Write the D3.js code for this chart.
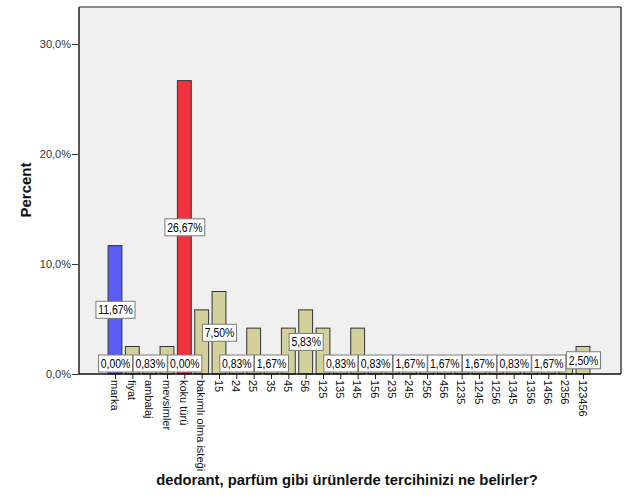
<!DOCTYPE html>
<html>
<head>
<meta charset="utf-8">
<script src="https://cdn.jsdelivr.net/npm/d3@7"></script>
<style>
  html, body { margin: 0; padding: 0; background: #fff; }
  svg { display: block; font-family: Arial, "Liberation Sans", sans-serif; }
</style>
</head>
<body>
<svg id="chart" width="629" height="504"></svg>
<script>
// ---- data ----
const categories = ["marka", "fiyat", "ambalaj", "mevsimler", "koku türü", "bakımlı olma isteği",
  "15", "24", "25", "35", "45", "56", "125", "135", "145", "156", "235", "245", "256", "456",
  "1235", "1245", "1256", "1345", "1356", "1456", "2356", "123456"];
const percents = [11.67, 2.50, 0.83, 2.50, 26.67, 5.83,
  7.50, 0.83, 4.17, 1.67, 4.17, 5.83, 4.17, 0.83, 4.17, 0.83, 0.83, 1.67, 0.83, 1.67,
  0.83, 1.67, 0.83, 0.83, 0.83, 1.67, 1.67, 2.50];
const barGroups = ["blue", "tan", "tan", "tan", "red", "tan",
  "tan", "tan", "tan", "tan", "tan", "tan", "tan", "tan", "tan", "tan", "tan", "tan", "tan", "tan",
  "tan", "tan", "tan", "tan", "tan", "tan", "tan", "tan"];
// categories whose data label is visible (others are hidden by label overlap)
const labelledCategories = ["marka", "ambalaj", "koku türü", "15", "24", "35", "56", "135", "156",
  "245", "456", "1245", "1345", "1456", "123456"];
// extra empty-group labels shown at the baseline
const zeroLabelCategories = ["marka", "koku türü"];
const zeroLabelValues = [0, 0];
const yTicks = [0, 10, 20, 30];
const xTitle = "dedorant, parfüm gibi ürünlerde tercihinizi ne belirler?";
const yTitle = "Percent";

const colors = { blue: "#5a5cf4", red: "#f0343e", tan: "#d4d09c" };

// ---- layout ----
const svg = d3.select("#chart");
const plot = { left: 79, right: 621, top: 7, bottom: 374 };

const x = d3.scalePoint().domain(categories).range([115, 583]);
const y = d3.scaleLinear().domain([0, 30]).range([374, 44]);
const barW = x.step() * 0.8;

// plot background
svg.append("rect")
  .attr("x", plot.left).attr("y", plot.top)
  .attr("width", plot.right - plot.left).attr("height", plot.bottom - plot.top)
  .attr("fill", "#f0f0f0");
// frame: top and right
svg.append("line").attr("x1", plot.left).attr("x2", plot.right)
  .attr("y1", plot.top).attr("y2", plot.top).attr("stroke", "#8a8a8a").attr("stroke-width", 2);
svg.append("line").attr("x1", plot.right).attr("x2", plot.right)
  .attr("y1", plot.top).attr("y2", plot.bottom).attr("stroke", "#444").attr("stroke-width", 1.5);

// bars
const data = categories.map((c, i) => ({ c, v: percents[i], g: barGroups[i] }));
svg.append("g").selectAll("rect").data(data).join("rect")
  .attr("x", d => x(d.c) - barW / 2)
  .attr("y", d => y(d.v))
  .attr("width", barW)
  .attr("height", d => y(0) - y(d.v))
  .attr("fill", d => colors[d.g])
  .attr("stroke", "#333")
  .attr("stroke-width", 1);

// y axis
const yAxis = d3.axisLeft(y).tickValues(yTicks).tickSize(7).tickPadding(1)
  .tickFormat(d => d3.format(".1f")(d).replace(".", ",") + "%");
const gy = svg.append("g").attr("transform", `translate(${plot.left},0)`).call(yAxis);
gy.select(".domain").remove();
gy.selectAll(".tick line").attr("stroke", "#333");
gy.selectAll(".tick text").attr("font-size", 11).attr("fill", "#333")
  .attr("font-family", "Arial, 'Liberation Sans', sans-serif");
svg.append("line").attr("x1", plot.left).attr("x2", plot.left)
  .attr("y1", plot.top).attr("y2", plot.bottom).attr("stroke", "#555").attr("stroke-width", 2);

// x axis
const xAxis = d3.axisBottom(x).tickSize(5).tickSizeOuter(0);
const gx = svg.append("g").attr("transform", `translate(0,${plot.bottom})`).call(xAxis);
gx.select(".domain").remove();
gx.selectAll(".tick line").attr("stroke", "#222");
gx.selectAll(".tick text")
  .attr("font-size", 11).attr("fill", "#111")
  .attr("font-family", "Arial, 'Liberation Sans', sans-serif")
  .attr("text-anchor", "start")
  .attr("transform", "rotate(90)")
  .attr("x", 6).attr("y", 0).attr("dy", "0.45em");
svg.append("line").attr("x1", plot.left).attr("x2", plot.right)
  .attr("y1", plot.bottom).attr("y2", plot.bottom).attr("stroke", "#111").attr("stroke-width", 1.5);

// data labels
const fmtPct = v => v.toFixed(2).replace(".", ",") + "%";
const labels = [];
labelledCategories.forEach(c => {
  const i = categories.indexOf(c);
  labels.push({ c, v: percents[i] });
});
zeroLabelCategories.forEach((c, i) => labels.push({ c, v: zeroLabelValues[i] }));

const boxH = 17;
const shortBoxW = x.step() * 2 - 0.6;
const fontSize = 12.6;
// measure a reference 5-character label to get horizontal squeeze factor
const probe = svg.append("text").attr("font-size", fontSize).text("0,00%");
const squeeze = (shortBoxW - 4.5) / probe.node().getComputedTextLength();
probe.remove();

const gl = svg.append("g");
labels.forEach(d => {
  const cx = x(d.c) + 0.5;
  const mid = (y(d.v) + y(0)) / 2;
  const cy = Math.min(mid, y(0) - 10.5);
  const g = gl.append("g");
  const rect = g.append("rect");
  const t = g.append("text")
    .attr("x", cx).attr("y", cy).attr("dy", "0.36em")
    .attr("text-anchor", "middle").attr("font-size", fontSize).attr("fill", "#000")
    .text(fmtPct(d.v));
  const tl = t.node().getComputedTextLength() * squeeze;
  t.attr("textLength", tl).attr("lengthAdjust", "spacingAndGlyphs");
  const w = tl + 4.5;
  rect.attr("x", cx - w / 2).attr("y", cy - boxH / 2)
    .attr("width", w).attr("height", boxH)
    .attr("fill", "#fff").attr("stroke", "#7a7a7a").attr("stroke-width", 1);
});

// titles
svg.append("text")
  .attr("transform", `translate(31,190) rotate(-90)`)
  .attr("text-anchor", "middle").attr("font-size", 15).attr("font-weight", "bold")
  .attr("fill", "#111").text(yTitle);
svg.append("text")
  .attr("x", 347).attr("y", 485)
  .attr("text-anchor", "middle").attr("font-size", 14.8).attr("font-weight", "bold")
  .attr("fill", "#111").text(xTitle);
</script>
</body>
</html>
